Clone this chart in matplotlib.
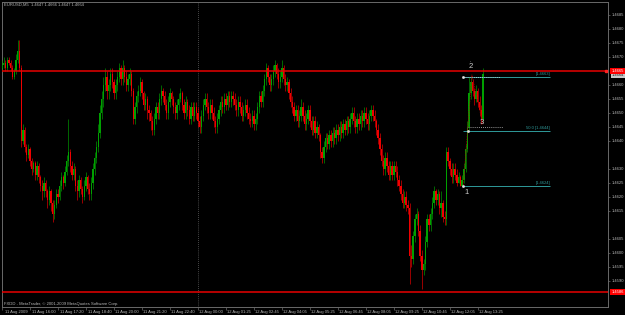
import matplotlib
matplotlib.use("Agg")
import matplotlib.pyplot as plt
import numpy as np

plt.rcParams["font.family"] = ["Liberation Sans", "DejaVu Sans"]

# ---------------- data (EURUSD M5, prices in pips above BASE) ----------------
BASE = 1.4600
PIP = 0.0001
first_open_pips = 66

close_pips = [
    67, 68, 66, 69, 68, 66, 63, 65, 69, 72,
    66, 40, 44, 38, 35, 37, 33, 30, 32, 28,
    31, 27, 24, 22, 25, 22, 19, 22, 18, 14,
    17, 21, 20, 24, 27, 25, 29, 33, 36, 31,
    28, 30, 24, 22, 26, 23, 20, 24, 27, 23,
    21, 25, 30, 34, 38, 43, 50, 55, 60, 63,
    58, 60, 64, 61, 57, 60, 63, 66, 62, 66,
    63, 60, 62, 64, 58, 48, 52, 56, 58, 61,
    57, 53, 55, 51, 50, 47, 44, 48, 52, 50,
    55, 58, 56, 53, 50, 54, 57, 55, 52, 50,
    53, 55, 57, 53, 50, 54, 51, 48, 52, 49,
    52, 50, 47, 45, 49, 53, 55, 52, 50, 53,
    50, 47, 45, 48, 51, 54, 52, 55, 53, 56,
    54, 56, 55, 53, 51, 54, 52, 49, 51, 53,
    50, 48, 47, 49, 46, 48, 52, 56, 54, 58,
    62, 66, 63, 60, 62, 65, 67, 64, 61, 63,
    66, 62, 60, 61, 57, 54, 52, 49, 51, 47,
    49, 52, 49, 46, 48, 51, 47, 44, 47, 43,
    45, 42, 36, 34, 38, 41, 39, 42, 40, 43,
    41, 44, 42, 45, 43, 46, 44, 47, 45, 48,
    50, 47, 45, 48, 46, 49, 47, 50, 48, 46,
    49, 51, 49, 47, 44, 41, 37, 33, 30, 34,
    31, 28, 31, 28, 31, 29, 26, 24, 21, 18,
    20, 17, 16, -1, -2, 6, 12, 14, 8, -1,
    -6, -4, 4, 12, 10, 14, 18, 22, 19, 21,
    16, 18, 13, 12, 36, 33, 30, 27, 30, 28,
    25, 27, 24, 26, 30, 37, 45, 57, 61, 58,
    55, 58, 54, 51, 48, 64,
]

high_pips = [
    69, 70, 69, 70, 70, 69, 67, 66, 71, 76,
    76, 67, 46, 45, 39, 39, 38, 34, 33, 33,
    33, 32, 28, 26, 27, 26, 23, 24, 23, 19,
    19, 23, 23, 26, 29, 28, 31, 35, 48, 37,
    33, 32, 31, 26, 28, 27, 24, 26, 29, 28,
    25, 27, 32, 36, 40, 46, 53, 58, 63, 66,
    65, 62, 66, 66, 62, 62, 65, 68, 67, 69,
    67, 65, 64, 66, 65, 59, 54, 58, 60, 63,
    62, 58, 57, 56, 53, 51, 49, 50, 54, 54,
    57, 60, 59, 58, 55, 56, 59, 58, 56, 54,
    55, 57, 59, 58, 55, 56, 55, 53, 54, 54,
    54, 54, 52, 49, 51, 55, 57, 57, 54, 55,
    55, 52, 49, 50, 53, 56, 56, 57, 57, 58,
    58, 58, 58, 57, 55, 56, 56, 54, 53, 55,
    55, 52, 50, 51, 51, 50, 54, 58, 58, 60,
    64, 68, 67, 64, 64, 67, 69, 68, 66, 65,
    69, 67, 64, 63, 62, 59, 56, 54, 53, 53,
    51, 55, 54, 51, 50, 53, 53, 49, 49, 49,
    47, 46, 43, 38, 40, 43, 43, 44, 44, 45,
    45, 46, 46, 47, 47, 48, 48, 49, 49, 50,
    52, 52, 49, 50, 50, 51, 51, 52, 52, 50,
    51, 53, 53, 51, 48, 46, 43, 39, 35, 36,
    36, 33, 33, 33, 33, 33, 31, 28, 26, 23,
    22, 22, 19, 18, 3, 8, 14, 16, 15, 10,
    1, -2, 6, 14, 14, 16, 20, 24, 23, 23,
    22, 22, 19, 15, 38, 38, 34, 32, 32, 32,
    30, 29, 28, 28, 32, 39, 47, 63, 63, 62,
    59, 60, 59, 56, 53, 66,
]

low_pips = [
    65, 66, 65, 65, 67, 65, 62, 62, 64, 68,
    65, 38, 39, 36, 33, 34, 31, 28, 29, 26,
    26, 25, 22, 19, 20, 20, 16, 17, 15, 11,
    12, 16, 18, 19, 22, 23, 24, 28, 31, 29,
    26, 26, 22, 19, 20, 21, 18, 19, 22, 21,
    19, 19, 23, 28, 32, 36, 41, 48, 52, 58,
    55, 55, 58, 59, 55, 55, 58, 61, 60, 60,
    61, 58, 58, 60, 56, 46, 46, 50, 54, 56,
    55, 51, 51, 48, 47, 44, 42, 42, 46, 48,
    48, 53, 54, 51, 48, 48, 52, 53, 50, 48,
    48, 51, 54, 51, 48, 48, 49, 46, 46, 47,
    47, 48, 45, 43, 43, 47, 51, 50, 48, 48,
    48, 45, 43, 43, 46, 49, 50, 50, 51, 51,
    52, 52, 53, 51, 49, 49, 50, 47, 47, 49,
    48, 46, 45, 45, 44, 44, 46, 50, 52, 52,
    56, 60, 61, 58, 58, 60, 63, 62, 59, 59,
    61, 60, 58, 58, 55, 52, 50, 47, 47, 45,
    45, 47, 47, 44, 44, 46, 45, 42, 42, 41,
    41, 40, 34, 32, 32, 36, 37, 37, 38, 38,
    39, 39, 40, 40, 41, 41, 42, 42, 43, 43,
    46, 45, 43, 43, 44, 44, 45, 45, 46, 44,
    44, 47, 47, 45, 42, 39, 35, 31, 28, 28,
    29, 26, 26, 26, 26, 27, 24, 22, 19, 16,
    16, 15, 14, -11, -5, -4, 4, 10, 6, -3,
    -13, -8, -6, 2, 8, 8, 12, 16, 17, 17,
    14, 13, 11, 10, 10, 31, 28, 25, 25, 26,
    24, 25, 24, 24, 25, 29, 36, 44, 55, 56,
    53, 54, 52, 49, 46, 47,
]

time_labels = [
    "11 Aug 2009", "11 Aug 16:00", "11 Aug 17:20", "11 Aug 18:40",
    "11 Aug 20:00", "11 Aug 21:20", "11 Aug 22:40", "12 Aug 00:00",
    "12 Aug 01:25", "12 Aug 02:45", "12 Aug 04:05", "12 Aug 05:25",
    "12 Aug 06:45", "12 Aug 08:05", "12 Aug 09:25", "12 Aug 10:45",
    "12 Aug 12:05", "12 Aug 13:25",
]
bars_per_label = 16
day_separator_bar = 112

price_ticks = [1.4685, 1.4680, 1.4675, 1.4670, 1.4660, 1.4655, 1.4650,
               1.4645, 1.4640, 1.4630, 1.4625, 1.4620, 1.4615, 1.4605,
               1.4600, 1.4595, 1.4590]

resistance = 1.4665
support = 1.4586
bid = 1.4664

fib_high = 1.4663
fib_low = 1.4624
fib_labels = ["[1.4663]", "50.0 [1.4644]", "[1.4624]"]
fib_start_bar, fib_end_bar = 263.7, 313.3

wave_names = ["1", "2", "3"]
wave_bars = [263.7, 268.6, 275.0]
wave_prices = [1.46243, 1.46636, 1.46457]

header = "EURUSD,M5  1.4647 1.4666 1.4647 1.4664"
footer = "FXDD - MetaTrader, \u00a9 2001-2009 MetaQuotes Software Corp."

# ---------------- derived ----------------
close = BASE + np.array(close_pips) * PIP
high = BASE + np.array(high_pips) * PIP
low = BASE + np.array(low_pips) * PIP
open_ = np.concatenate([[BASE + first_open_pips * PIP], close[:-1]])
n = len(close)
assert len(high) == n and len(low) == n, (len(close), len(high), len(low))
xb = np.arange(n)

BULL = "#00A000"
BEAR = "#F00000"
GRID = "#6a6a6a"
TXT = "#B8B8B8"
TEAL = "#2F9A9A"
RED = "#E80000"

W, H = 625, 315
fig = plt.figure(figsize=(W / 100, H / 100), dpi=100, facecolor="black")
ax = fig.add_axes([2 / W, 8 / H, 606 / W, 305 / H], facecolor="black")
ax.set_xlim(0.855, 346.4)
ax.set_ylim(1.458071, 1.468964)

# candles
up = close >= open_
cols = np.where(up, BULL, BEAR)
ax.vlines(xb, low, high, colors=cols, lw=0.45, zorder=3)
bottoms = np.minimum(open_, close)
heights = np.maximum(np.abs(close - open_), 0.000025)
ax.bar(xb, heights, width=0.75, bottom=bottoms, color=cols, linewidth=0, zorder=4)

# day separator
ax.axvline(day_separator_bar, color="#8a8a8a", lw=0.5, ls=(0, (1, 2)), zorder=1)

# horizontal lines
ax.axhline(resistance, color=RED, lw=1.1, zorder=5)
ax.axhline(support, color=RED, lw=1.1, zorder=5)
ax.plot([345.2], [resistance], "s", ms=1.6, color="#FF2020", zorder=6)

# fibonacci levels
fib_mid = (fib_high + fib_low) / 2
fib_levels = [fib_high, fib_mid, fib_low]
ax.hlines(fib_levels, fib_start_bar, fib_end_bar, colors=TEAL, lw=0.7, zorder=5)
for lv, lab in zip(fib_levels, fib_labels):
    ax.annotate(lab, (fib_end_bar, lv), xytext=(0, 0.6), textcoords="offset points",
                ha="right", va="bottom", fontsize=3, color=TEAL, zorder=7)
ax.plot([fib_start_bar, fib_start_bar + 21], [fib_high, fib_high], color="#D8D8D8",
        lw=0.6, ls=(0, (1, 1.5)), zorder=6)
ax.plot([fib_start_bar + 2.8, fib_start_bar + 22.8], [wave_prices[2] - 0.00006] * 2,
        color="#C8C8C8", lw=0.6, ls=(0, (1, 1.5)), zorder=6)
ax.plot([fib_start_bar, fib_start_bar, fib_start_bar + 2.8],
        [fib_high, fib_low, fib_mid], "s", ms=0.9, color="#E0E0E0", zorder=7)

# zigzag
ax.plot(wave_bars, wave_prices, color="#B00000", lw=0.6, ls=(0, (1, 1)), zorder=6)
offs = [(2.2, -5.5), (-1.2, 6.0), (-0.6, 1.5)]
for nm, bx, pv, (dx, dy) in zip(wave_names, wave_bars, wave_prices, offs):
    ax.annotate(nm, (bx, pv), xytext=(dx, dy), textcoords="offset points",
                ha="center", va="center", fontsize=5.5, color="#CFCFCF", zorder=8)
ax.annotate(".", (wave_bars[1], wave_prices[1]), xytext=(-1.2, 10.5),
            textcoords="offset points", ha="center", va="center",
            fontsize=4, color="#CFCFCF")

# axes styling
for s in ax.spines.values():
    s.set_color(GRID)
    s.set_linewidth(0.7)
ax.yaxis.tick_right()
ax.set_yticks(price_ticks)
ax.set_yticklabels([f"{p:.4f}" for p in price_ticks])
ax.tick_params(axis="y", which="both", length=1.5, width=0.5, color=GRID,
               labelsize=3, labelcolor=TXT, pad=1.0)
tick_bars = [k * bars_per_label for k in range(len(time_labels))]
ax.set_xticks(tick_bars)
ax.tick_params(axis="x", length=2.5, width=0.5, color=GRID, labelbottom=False)
for b, lab in zip(tick_bars, time_labels):
    ax.annotate(lab, (max(b, 0.855), 0), xycoords=("data", "axes fraction"),
                xytext=(1.1, -3.3), textcoords="offset points",
                ha="left", va="center", fontsize=3, color=TXT, annotation_clip=False)

# price labels on axis
ax.annotate(f"{bid:.4f}", (1, bid - 0.00004), xycoords=("axes fraction", "data"),
            xytext=(2.6, 0), textcoords="offset points", ha="left", va="center",
            fontsize=3, color="#202020", zorder=9, annotation_clip=False,
            bbox=dict(boxstyle="square,pad=0.25", fc="#C8C8C8", ec="none"))
for lv in (resistance, support):
    ax.annotate(f"{lv:.4f}", (1, lv), xycoords=("axes fraction", "data"),
                xytext=(2.6, 0), textcoords="offset points", ha="left", va="center",
                fontsize=3, color="white", zorder=10, annotation_clip=False,
                bbox=dict(boxstyle="square,pad=0.3", fc="#FF0000", ec="none"))

fig.text(4 / W, 1 - 4.5 / H, header, fontsize=3, color=TXT, ha="left", va="center")
fig.text(3.5 / W, 1 - 304 / H, footer, fontsize=3, color=TXT, ha="left", va="center")

fig.savefig("out.png", dpi=100, facecolor="black")
